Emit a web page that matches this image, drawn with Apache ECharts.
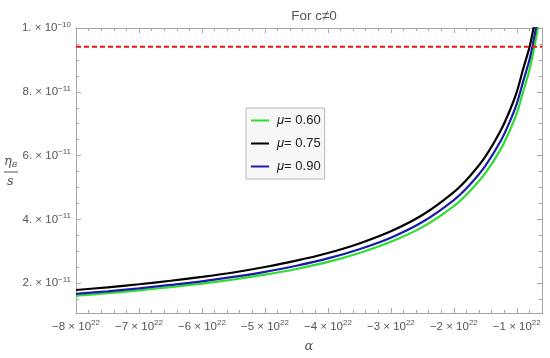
<!DOCTYPE html>
<html>
<head>
<meta charset="utf-8">
<script src="https://cdn.jsdelivr.net/npm/echarts@6/dist/echarts.min.js"></script>
<style>html,body{margin:0;padding:0;background:#fff}#c{width:550px;height:358px}</style>
</head>
<body>
<div id="c"></div>
<script>
// ---- data ----
const alphaVals = [-8e22,-7.5e22,-7e22,-6.5e22,-6e22,-5.5e22,-5e22,-4.5e22,-4e22,-3.5e22,-3e22,-2.5e22,-2e22,-1.75e22,-1.5e22,-1.25e22,-1.1e22,-1e22,-0.9e22,-0.8e22,-0.75e22,-0.7e22,-0.65e22,-0.6e22];
const etaMu075 = [1.79e-11,1.875e-11,1.97e-11,2.08e-11,2.20e-11,2.34e-11,2.51e-11,2.71e-11,2.95e-11,3.25e-11,3.63e-11,4.14e-11,4.86e-11,5.35e-11,5.97e-11,6.81e-11,7.47e-11,8.0e-11,8.71e-11,9.39e-11,9.84e-11,10.34e-11,10.9e-11,11.5e-11];
const etaMu090 = [1.67e-11,1.75e-11,1.84e-11,1.95e-11,2.06e-11,2.20e-11,2.36e-11,2.55e-11,2.78e-11,3.07e-11,3.43e-11,3.92e-11,4.61e-11,5.08e-11,5.68e-11,6.48e-11,7.12e-11,7.63e-11,8.32e-11,9.0e-11,9.45e-11,9.95e-11,10.5e-11,11.1e-11];
const etaMu060 = [1.61e-11,1.69e-11,1.78e-11,1.88e-11,1.99e-11,2.12e-11,2.27e-11,2.45e-11,2.67e-11,2.95e-11,3.30e-11,3.76e-11,4.42e-11,4.88e-11,5.45e-11,6.22e-11,6.84e-11,7.33e-11,8.0e-11,8.68e-11,9.12e-11,9.62e-11,10.2e-11,10.8e-11];
const observedEta = 9.41e-11;
const seriesNames = ['μ= 0.60','μ= 0.75','μ= 0.90'];
const xTickVals = [-8e22,-7e22,-6e22,-5e22,-4e22,-3e22,-2e22,-1e22];
const xTickMant = ['−8','−7','−6','−5','−4','−3','−2','−1'];
const yTickVals = [2e-11,4e-11,6e-11,8e-11,1e-10];
const yTickLabels = [['2.','−11'],['4.','−11'],['6.','−11'],['8.','−11'],['1.','−10']];
const xMin = -8e22, xMax = -0.6e22, yMin = 1.07e-11, yMax = 1e-10;

// minor tick positions
const xMinor = []; for (let i = 0; i <= 37; i++) xMinor.push(-8e22 + i * 0.2e22);
const yMinor = []; for (let i = 3; i <= 20; i++) yMinor.push(i * 0.5e-11);

const frame = '#a8a8a8';
const txt = '#555';
const font = 'Liberation Sans, Arial, sans-serif';

function pairs(xs, ys){ return xs.map((x,i)=>[x, ys[i]]); }

const chart = echarts.init(document.getElementById('c'), null, {renderer:'canvas'});

function xAx(pos, major, labels, name){
  return {
    type:'value', position:pos, min:xMin, max:xMax,
    axisLine:{show:true, onZero:false, lineStyle:{color:frame, width:1}},
    splitLine:{show:false},
    axisTick:{show:true, inside:true, length: major?5:3, lineStyle:{color:frame}, customValues: major?xTickVals:xMinor},
    axisLabel: labels ? {show:true, customValues:xTickVals, margin:6, color:txt, fontFamily:font, fontSize:11.5,
      formatter:(v)=>{ const i = xTickVals.findIndex(t=>Math.abs(t-v)<1e19); return i<0?'':xTickMant[i]+' × 10{sup|22}'; },
      rich:{sup:{fontSize:8, verticalAlign:'top', padding:[0,0,7,0], color:txt, fontFamily:font}}} : {show:false},
    name: name||'', nameLocation:'middle', nameGap:27,
    nameTextStyle:{color:txt, fontSize:13, fontStyle:'italic', fontFamily:'DejaVu Serif, serif'}
  };
}
function yAx(pos, major, labels){
  return {
    type:'value', position:pos, min:yMin, max:yMax,
    axisLine:{show:true, onZero:false, lineStyle:{color:frame, width:1}},
    splitLine:{show:false},
    axisTick:{show:true, inside:true, length: major?5:3, lineStyle:{color:frame}, customValues: major?yTickVals:yMinor},
    axisLabel: labels ? {show:true, customValues:yTickVals, margin:5, color:txt, fontFamily:font, fontSize:11.5,
      formatter:(v)=>{ const i = yTickVals.findIndex(t=>Math.abs(t-v)<1e-14); return i<0?'':yTickLabels[i][0]+' × 10{sup|'+yTickLabels[i][1]+'}'; },
      rich:{sup:{fontSize:8, verticalAlign:'top', padding:[0,0,7,0], color:txt, fontFamily:font}}} : {show:false}
  };
}

const lineColors = ['#2fdc2f','#000000','#1c1caa'];

chart.setOption({
  animation:false,
  backgroundColor:'#fff',
  title:{text:'For c≠0', left:309, top:4, textAlign:'center',
    textStyle:{color:txt, fontSize:13.5, fontWeight:'normal', fontFamily:font}},
  grid:{left:76, right:8, top:28, bottom:42, containLabel:false},
  legend:{
    orient:'vertical', left:246, top:108, padding:[5,4,5,5],
    backgroundColor:'#f7f7f7', borderColor:'#b8b8b8', borderWidth:1,
    itemWidth:18, itemHeight:2, itemGap:8,
    data: seriesNames.map((n,i)=>({name:n, icon:'rect', itemStyle:{color:lineColors[i]}})),
    formatter:(n)=>'{i|μ}'+n.slice(1),
    textStyle:{color:'#222', fontSize:13, fontFamily:font, padding:[0,0,0,3], lineHeight:15,
      rich:{i:{fontStyle:'italic', fontSize:13, fontFamily:font, color:'#222'}}}
  },
  xAxis:[ xAx('bottom', true, true, 'α'), xAx('bottom', false, false), xAx('top', true, false), xAx('top', false, false) ],
  yAxis:[ yAx('left', true, true), yAx('left', false, false), yAx('right', true, false), yAx('right', false, false) ],
  graphic:[
    {type:'text', left:4, top:155, style:{text:'η{b|B}', fill:txt, font:'italic 13px DejaVu Serif, serif',
      rich:{b:{fontSize:8, fontStyle:'italic', fill:txt, verticalAlign:'bottom', padding:[6,0,0,0], fontFamily:font}}}},
    {type:'line', shape:{x1:4, y1:172, x2:18, y2:172}, style:{stroke:txt, lineWidth:1}},
    {type:'text', left:7, top:175, style:{text:'s', fill:txt, font:'italic 13px DejaVu Serif, serif'}}
  ],
  series:[
    {name:seriesNames[0], type:'line', data:pairs(alphaVals, etaMu060), smooth:0.3, showSymbol:false, clip:true,
      lineStyle:{color:lineColors[0], width:2.2}, itemStyle:{color:lineColors[0]}, z:3},
    {name:seriesNames[2], type:'line', data:pairs(alphaVals, etaMu090), smooth:0.3, showSymbol:false, clip:true,
      lineStyle:{color:lineColors[2], width:2.2}, itemStyle:{color:lineColors[2]}, z:4},
    {name:seriesNames[1], type:'line', data:pairs(alphaVals, etaMu075), smooth:0.3, showSymbol:false, clip:true,
      lineStyle:{color:lineColors[1], width:2.2}, itemStyle:{color:lineColors[1]}, z:5},
    {name:'observed', type:'line', data:[[xMin, observedEta],[xMax, observedEta]], showSymbol:false, clip:true,
      lineStyle:{color:'#ee1111', width:2, type:[5,3]}, z:6, silent:true}
  ]
});
</script>
</body>
</html>
